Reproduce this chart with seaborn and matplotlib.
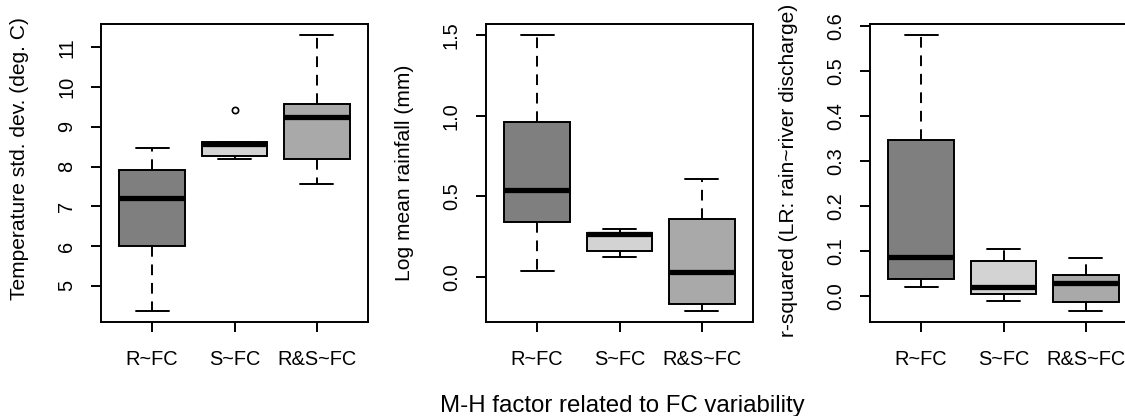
import numpy as np
import pandas as pd
import matplotlib
matplotlib.use("Agg")
import matplotlib.pyplot as plt
import seaborn as sns
from matplotlib.ticker import FixedLocator, FormatStrFormatter

# ---- data (five-number readings per group: low whisker, Q1, median, Q3, high whisker / outlier)
groups = ["R~FC", "S~FC", "R&S~FC"]
box_colors = ["#7f7f7f", "#d3d3d3", "#a9a9a9"]

temp_rfc = [4.37, 6.00, 7.22, 7.92, 8.47]
temp_sfc = [8.20, 8.28, 8.56, 8.61, 9.42]      # 9.42 plotted as outlier
temp_rsfc = [7.57, 8.18, 9.25, 9.58, 11.31]

rain_rfc = [0.037, 0.342, 0.538, 0.960, 1.500]
rain_sfc = [0.124, 0.161, 0.264, 0.276, 0.301]
rain_rsfc = [-0.210, -0.169, 0.033, 0.361, 0.610]

r2_rfc = [0.020, 0.038, 0.086, 0.346, 0.580]
r2_sfc = [-0.011, 0.004, 0.021, 0.077, 0.105]
r2_rsfc = [-0.033, -0.012, 0.029, 0.047, 0.085]

temp_ticks = [5, 6, 7, 8, 9, 10, 11]
rain_ticks = [0.0, 0.5, 1.0, 1.5]
r2_ticks = [0.0, 0.1, 0.2, 0.3, 0.4, 0.5, 0.6]

ylabels = ["Temperature std. dev. (deg. C)", "Log mean rainfall (mm)",
           "r-squared (LR: rain~river discharge)"]
xlabel = "M-H factor related to FC variability"

panels = [
    ([temp_rfc, temp_sfc, temp_rsfc], temp_ticks, "%d"),
    ([rain_rfc, rain_sfc, rain_rsfc], rain_ticks, "%.1f"),
    ([r2_rfc, r2_sfc, r2_rsfc], r2_ticks, "%.1f"),
]

sns.set_style("ticks")
plt.rcParams["font.family"] = ["Liberation Sans", "DejaVu Sans"]
plt.rcParams["axes.linewidth"] = 1.4
plt.rcParams["text.color"] = "black"
plt.rcParams["axes.labelcolor"] = "black"

W, H = 1125, 416
fig = plt.figure(figsize=(W / 100, H / 100), dpi=100)

lefts = [101, 486, 870]
ylab_y = [0.55, 0.50, 0.508]
ax_w, top, bottom = 267, 24, 322
TICK_FS = 14.4
YLAB_FS = 15.1
XLAB_FS = 17.3

for i, (vals, ticks, fmt) in enumerate(panels):
    ax = fig.add_axes([lefts[i] / W, (H - bottom) / H, ax_w / W, (bottom - top) / H])
    df = pd.DataFrame({
        "group": np.repeat(groups, [len(v) for v in vals]),
        "value": np.concatenate(vals),
    })
    sns.boxplot(
        data=df, x="group", y="value", hue="group", order=groups, hue_order=groups,
        palette=box_colors, saturation=1, legend=False, ax=ax, width=0.8, whis=1.5,
        linecolor="black", linewidth=1.4,
        medianprops=dict(linewidth=3.8, color="black", solid_capstyle="butt"),
        whiskerprops=dict(linestyle=(0, (5.5, 4)), color="black", linewidth=1.4),
        capprops=dict(color="black", linewidth=1.4),
        flierprops=dict(marker="o", markersize=4.5, markerfacecolor="none",
                        markeredgecolor="black", markeredgewidth=1.2),
    )
    allv = np.concatenate(vals)
    lo, hi = allv.min(), allv.max()
    pad = 0.04 * (hi - lo)
    ax.set_ylim(lo - pad, hi + pad)
    ax.set_xlim(-0.62, 2.62)
    ax.yaxis.set_major_locator(FixedLocator(ticks))
    ax.yaxis.set_major_formatter(FormatStrFormatter(fmt))
    for s in ax.spines.values():
        s.set_visible(True)
        s.set_color("black")
        s.set_linewidth(1.4)
    ax.tick_params(axis="both", direction="out", length=7, width=1.4,
                   color="black", labelsize=TICK_FS, labelcolor="black")
    ax.tick_params(axis="x", pad=13)
    ax.tick_params(axis="y", pad=11)
    for lab in ax.get_yticklabels():
        lab.set_rotation(90)
        lab.set_va("center")
        lab.set_ha("right")
    ax.set_xlabel("")
    ax.set_ylabel(ylabels[i], fontsize=YLAB_FS, va="center", color="black")
    ax.yaxis.set_label_coords(-82 / ax_w, ylab_y[i])
    ax.set_facecolor("white")

fig.text(622 / W, 4 / H, xlabel, ha="center", va="baseline", fontsize=XLAB_FS,
         color="black")
fig.savefig("out.png", dpi=100, facecolor="white")
